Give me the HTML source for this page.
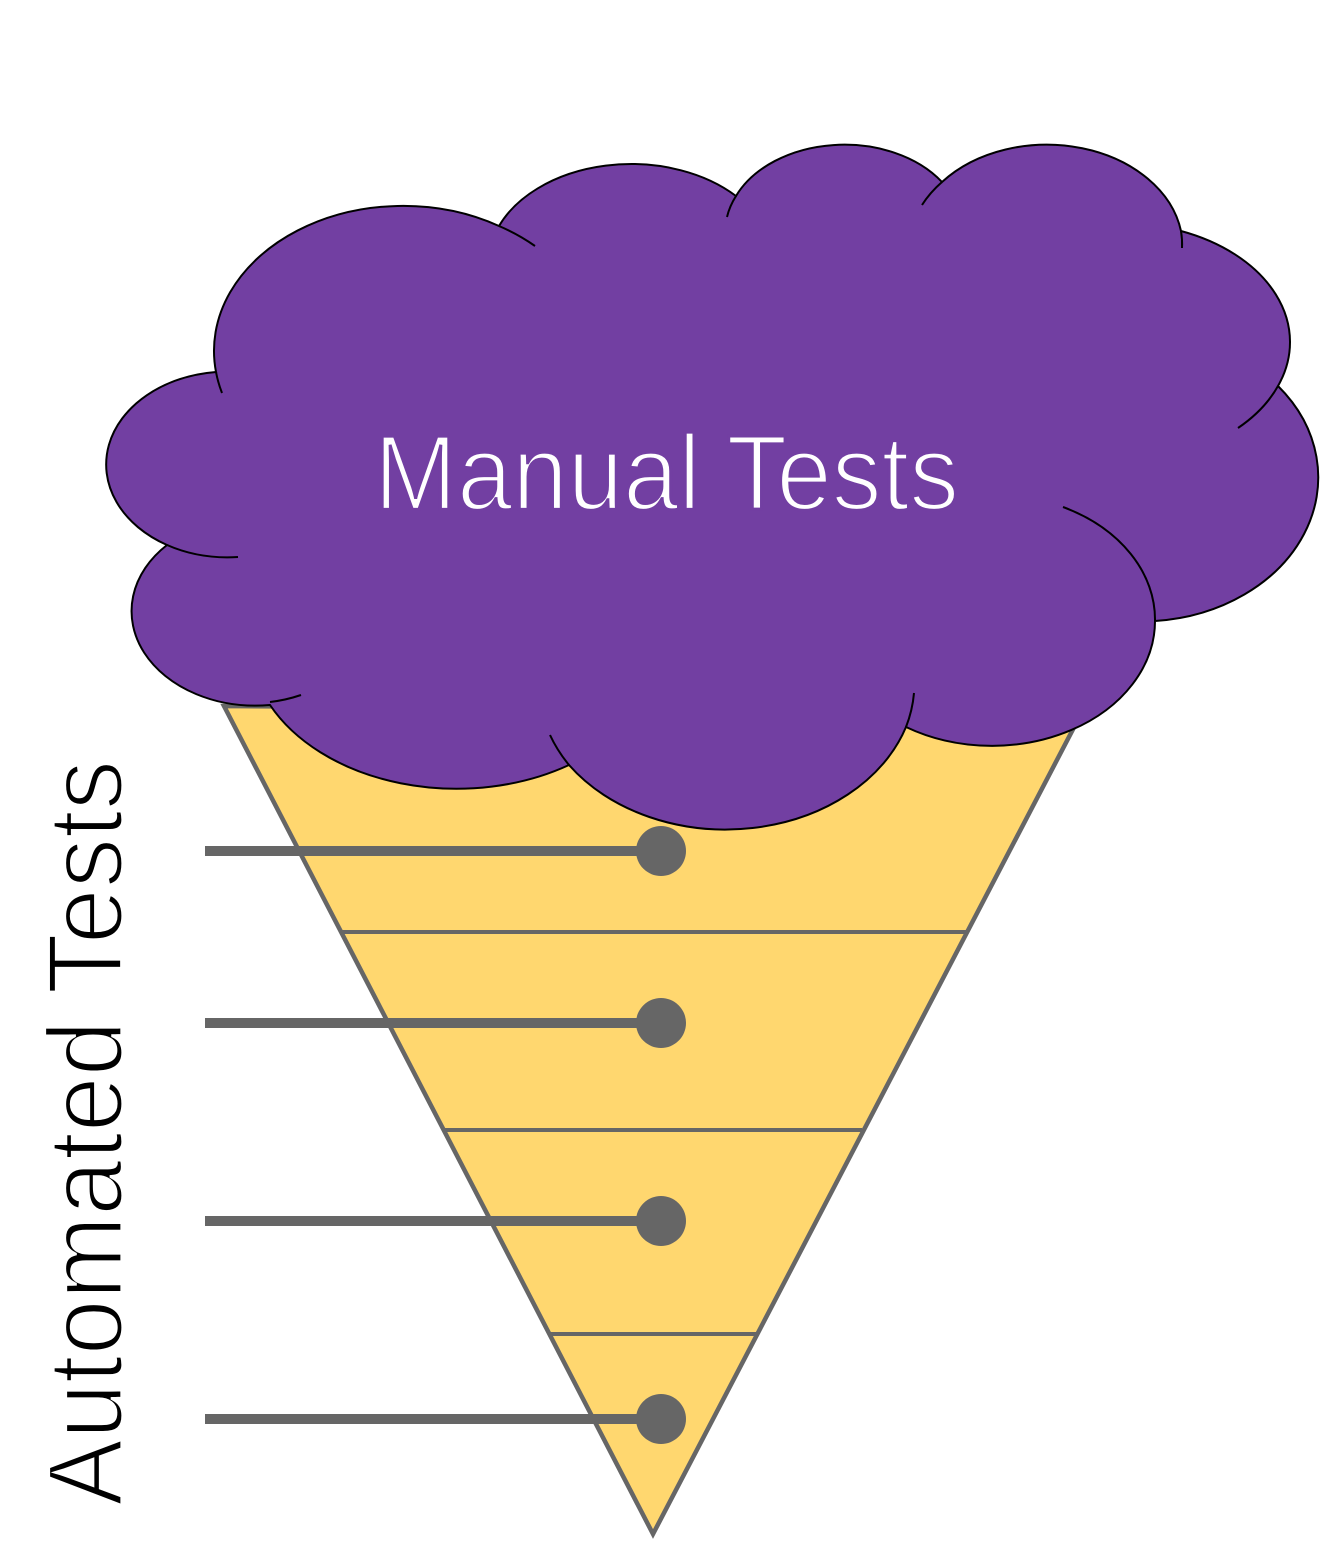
<!DOCTYPE html>
<html>
<head>
<meta charset="utf-8">
<style>
html,body{margin:0;padding:0;background:#fff;}
svg{display:block;}
text{font-family:"Liberation Sans",sans-serif;}
</style>
</head>
<body>
<svg width="1330" height="1562" viewBox="0 0 1330 1562" xmlns="http://www.w3.org/2000/svg">
<rect width="1330" height="1562" fill="#fff"/>
<polygon points="224,706 1082,712 653,1534" fill="#ffd76f" stroke="#666" stroke-width="4.5" stroke-linejoin="miter" stroke-miterlimit="10"/>
<g stroke="#666" stroke-width="4">
<line x1="340" y1="932" x2="966" y2="932"/>
<line x1="444" y1="1130" x2="862" y2="1130"/>
<line x1="549" y1="1334" x2="758" y2="1334"/>
</g>
<g stroke="#666" stroke-width="10">
<line x1="205" y1="851" x2="660" y2="851"/>
<line x1="205" y1="1023" x2="660" y2="1023"/>
<line x1="205" y1="1221" x2="660" y2="1221"/>
<line x1="205" y1="1419" x2="660" y2="1419"/>
</g>
<g fill="#666">
<circle cx="661" cy="851" r="25"/>
<circle cx="661" cy="1023" r="25"/>
<circle cx="661" cy="1221" r="25"/>
<circle cx="661" cy="1419" r="25"/>
</g>
<path d="M270,705 A124,94.5 0 0 1 167,545 A122,93 0 0 1 216,372 A189,145 0 0 1 499,226 A143,100 0 0 1 736,196 A118,85 0 0 1 942,182 A136,103 0 0 1 1181,231 A170,119 0 0 1 1278,386 A177,144 0 0 1 1155,621 A163,125 0 0 1 906,727 A190,149 0 0 1 569,765 A207,148 0 0 1 270,705 Z" fill="#723fa2" stroke="#000" stroke-width="2"/>
<g fill="none" stroke="#000" stroke-width="2">
<path d="M216,372 A189,145 0 0 0 222,393"/>
<path d="M167,545 A122,93 0 0 0 238,557"/>
<path d="M270,702 A122,94 0 0 0 301,695"/>
<path d="M569,765 A190,150 0 0 1 550,735"/>
<path d="M906,727 A190,150 0 0 0 914,693"/>
<path d="M1155,621 A163,125 0 0 0 1063,507"/>
<path d="M1278,386 A170,119 0 0 1 1238,428"/>
<path d="M1181,231 A136,103 0 0 1 1182,248"/>
<path d="M942,182 A136,103 0 0 0 922,205"/>
<path d="M736,196 A118,85 0 0 0 727,217"/>
<path d="M499,226 A189,145 0 0 1 535,246"/>
</g>
<text x="374" y="509.5" font-size="107" fill="#fff" stroke="#723fa2" stroke-width="3.2" textLength="585" lengthAdjust="spacingAndGlyphs">Manual Tests</text>
<text transform="translate(122,1506) rotate(-90)" font-size="107" fill="#000" stroke="#fff" stroke-width="3.2" textLength="746" lengthAdjust="spacingAndGlyphs">Automated Tests</text>
</svg>
</body>
</html>
